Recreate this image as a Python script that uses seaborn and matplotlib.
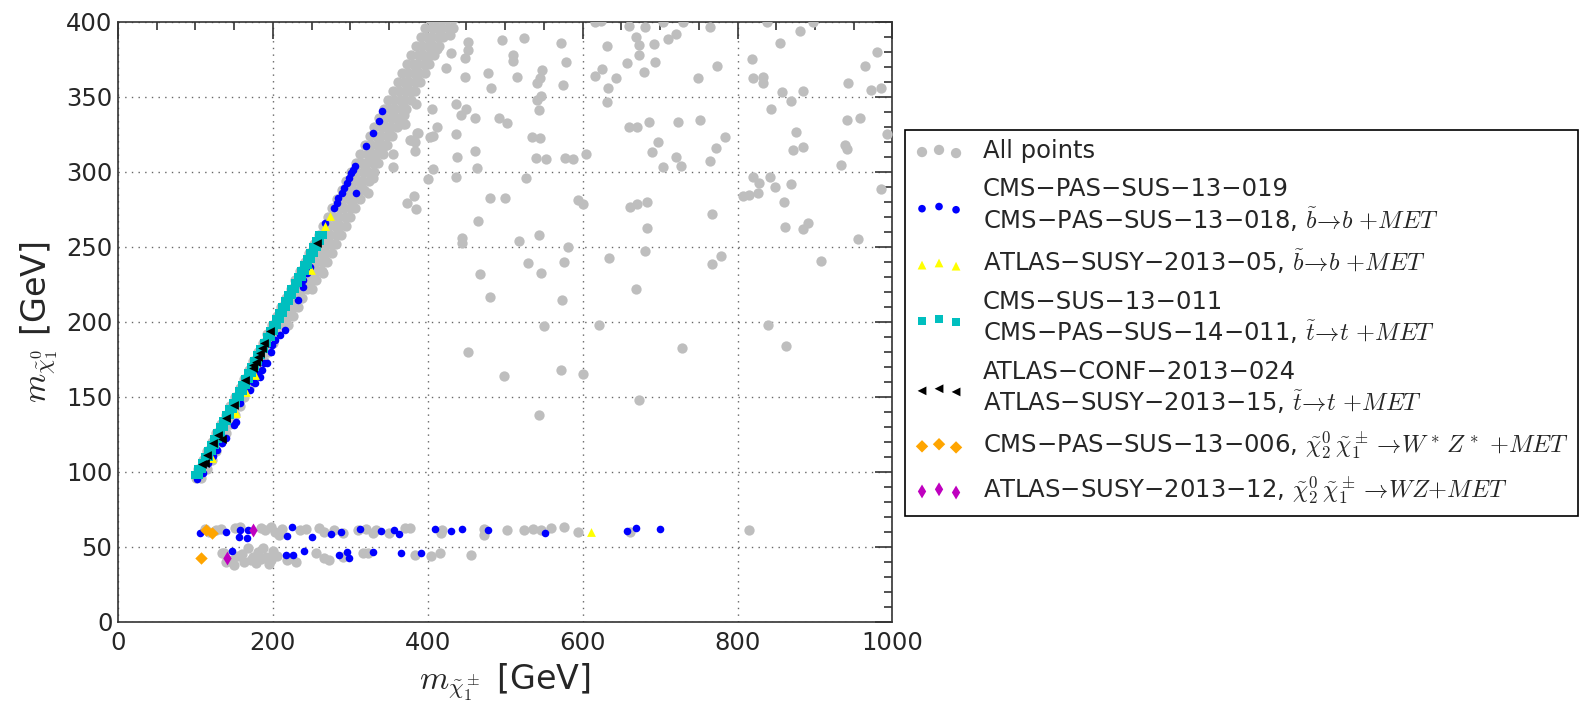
import matplotlib
matplotlib.use("Agg")
import matplotlib.pyplot as plt
from matplotlib.ticker import MultipleLocator
import pandas as pd
import seaborn as sns

# ---- data (GeV) ----
# dense diagonal band of all points: (m_chi10, [m_chi1pm values])
band_rows = [
    (96, [101, 107]), (102, [104, 110, 115]), (108, [110, 116, 121]),
    (114, [115, 122, 127]), (120, [121, 128, 133]), (126, [127, 134, 139]),
    (132, [133, 140, 145]), (138, [139, 146, 151]), (144, [145, 152, 157]),
    (150, [151, 158, 163]), (156, [157, 164, 169]), (162, [163, 170, 175]),
    (168, [169, 176, 182]), (174, [175, 182, 188]), (180, [181, 188, 194]),
    (186, [187, 194, 200]), (192, [193, 200, 206]),
    (198, [199, 207, 214, 219]), (204, [205, 213, 220, 226]),
    (210, [211, 219, 226, 232]), (216, [217, 225, 232, 238]),
    (222, [223, 231, 238, 244, 250]), (228, [229, 237, 244, 250, 256]),
    (234, [235, 243, 250, 257, 263]), (240, [241, 249, 256, 263, 270]),
    (246, [247, 255, 262, 269, 276]), (252, [253, 261, 268, 275, 282]),
    (258, [259, 267, 274, 281, 288]), (264, [265, 273, 280, 287, 294]),
    (270, [271, 279, 286, 293, 300]), (276, [277, 285, 292, 299, 306]),
    (282, [283, 291, 298, 305, 312]), (288, [289, 297, 304, 311, 318]),
    (294, [295, 303, 310, 317, 324]), (300, [301, 309, 316, 323, 330]),
    (306, [307, 315, 322, 329, 336]), (312, [313, 321, 328, 335, 342]),
    (318, [319, 327, 334, 341, 348]), (324, [325, 333, 340, 347, 354]),
    (330, [331, 339, 346, 353, 360]), (336, [337, 345, 352, 359, 366]),
    (342, [343, 351, 358, 365, 372]), (348, [349, 357, 364, 371, 378]),
    (354, [355, 363, 370, 377, 384]), (360, [361, 369, 376, 383, 390]),
    (366, [367, 375, 382, 389, 396]), (372, [373, 381, 388, 395, 402]),
    (378, [379, 387, 394, 401, 408]), (384, [385, 393, 400, 407, 414]),
    (390, [391, 399, 406, 413, 420]), (396, [397, 405, 412, 419, 426]),
    (402, [403, 411, 418, 425, 432]),
]

# scattered all points
scatter_pts = [
    (428.7, 391), (433, 395.6), (452, 386.7), (452, 381), (448, 375.6), (429.5, 379),
    (423.5, 369), (448, 363), (495.4, 388), (524, 389), (572, 385.6), (510, 378),
    (510, 374), (478, 365.6), (481.6, 356), (515.6, 363), (548, 367.8), (545, 362.7),
    (541, 359), (579, 373), (575, 358), (546.5, 350.7), (540.4, 347.8), (544, 341),
    (384.8, 345), (406, 341.6), (437, 345), (442.9, 338), (450, 341.8), (461.4, 336),
    (491.5, 335.6), (501.8, 332.7), (370.6, 332), (387.8, 326), (379, 321), (383.5, 320),
    (407, 324), (412, 330), (436.4, 325), (383.5, 313.8), (438, 310), (461, 313.8),
    (463, 302.7), (407, 301.8), (400.6, 295), (436, 296.7), (534, 323.3), (545, 322.2),
    (539.7, 309), (552.6, 308.5), (577, 309), (588, 308.5), (603.7, 311.8), (526.8, 296),
    (480, 282.7), (499.7, 282.3), (594, 281), (600.6, 278.3), (382, 283.8), (372.7, 278.9),
    (384.8, 275), (615.9, 400), (624, 400.5), (631, 383.8), (615.9, 363.8), (624.4, 368.3),
    (643, 362.7), (633, 355.6), (630.8, 346.7), (659.8, 397), (668.8, 390), (673, 384.5),
    (673, 377.8), (680.4, 396.3), (692, 385), (709.7, 388.3), (721, 391.7), (656.8, 372.2),
    (679, 366.7), (693.3, 373), (729, 400), (764, 396.3), (748.4, 362.3), (772.9, 370.5),
    (660, 330), (669.6, 330), (686, 333.3), (723.4, 333.3), (751.5, 334.5), (697.6, 320),
    (689.8, 313.3), (721, 309.6), (726.4, 303.8), (704, 303.3), (771.5, 316), (783.6, 323.3),
    (765, 307), (818, 374.9), (837.6, 400), (854.7, 385.6), (880.6, 394), (819.4, 362.3),
    (832.3, 363.3), (833, 359), (857, 353.3), (884.8, 353.8), (869, 347), (843, 341.6),
    (942, 359), (964.5, 370.5), (979.5, 379.9), (971.8, 354.4), (985, 355.6), (940.8, 334.5),
    (958, 335.6), (992.5, 325), (875.4, 326.7), (871, 314.5), (884.8, 316.7), (938.6, 317.8),
    (940.8, 315), (933, 304.7), (820, 296.3), (828, 292.7), (841.8, 296.3), (848.6, 290),
    (868.5, 291.8), (806.6, 284), (815, 284.5), (826.7, 285.6), (860, 279.6), (985.8, 288.5),
    (766.4, 271.8), (704, 400), (897, 399.6),
    (661, 276.7), (669.7, 278.5), (682.6, 280), (464.4, 267.3), (443.7, 255.6), (443.7, 252.7),
    (517.8, 254), (544, 257.8), (581.4, 249.6), (575.7, 240), (528.9, 238.9), (545.6, 232.7),
    (467.4, 231.6), (480.3, 216.7), (572.9, 214.5), (634, 242.7), (680.4, 247), (682.6, 262.3),
    (668.3, 221.6), (766.5, 238.5), (778, 244), (861, 263.3), (884, 261.6), (891.3, 266),
    (955.8, 255), (907.7, 240.5), (550.3, 197), (621.4, 197.8), (838.8, 197.6), (451.4, 179.6),
    (727.8, 182.5), (862, 184), (498.8, 164), (571.9, 167.8), (600.7, 165), (673, 147.8),
    (544, 137.8),
    (411.4, 382), (398.6, 374.5), (402.8, 323.4), (368.4, 332), (377, 321), (386, 325.6),
    (355.5, 312), (354.6, 303.3), (329.7, 295.6), (369, 337.8), (342.6, 316.7), (327.5, 310),
    (323.2, 285.6), (265, 232.3),
]

# the two low rows of all points (m_chi10 ~ 60 and ~ 45)
low_pts = [
    (112, 62), (118, 60), (127, 61), (133, 62), (150.7, 62.2), (157, 63), (184.5, 62.2),
    (190, 61), (198, 63.3), (202.7, 60), (208, 57.8), (212, 62), (235, 61.1), (243, 62),
    (260, 62.2), (265.5, 60), (279, 61.1), (290, 59), (309.5, 61.1), (320, 62), (329.7, 59.3),
    (333, 61.1), (350, 59.3), (370, 62.2), (377, 62.7), (417.6, 58.9), (419, 61.1),
    (473, 61.6), (473, 57.8), (502, 61.1), (524.3, 61.1), (535.8, 61.6), (546, 61.1),
    (559.5, 62.2), (576, 63), (594.3, 59.6), (661, 59.6), (815, 61.1),
    (135, 46), (137, 45.6), (140, 40), (147.3, 41.1), (150, 38), (155, 44), (160.8, 45.1),
    (163, 40), (167.6, 48.9), (172, 41), (174.3, 43.3), (177.7, 38.9), (181, 46.7), (185, 42),
    (187.8, 48.9), (191, 43.3), (195, 38.5), (198, 41.1), (200, 47), (205, 44), (218, 41.1),
    (225, 42.2), (230, 40), (255.4, 45.6), (265.5, 42.2), (272.3, 41.1), (290, 43),
    (316.2, 45.6), (323, 45.6), (383.8, 44.4), (404, 43.8), (416, 45.6), (456, 44.4),
]

cms_b_pts = [
    (341.3, 340.5), (337.4, 333.8), (328.8, 326), (320.2, 317), (306, 303.8), (303.8, 301),
    (300.8, 299), (298.7, 295.6), (295.3, 292.3), (291.8, 289), (289, 285.6), (284.6, 282.3),
    (282.2, 279), (279.3, 275.6), (307, 286), (267.3, 265.6), (248, 236.7), (243.6, 232.3),
    (239.3, 227.8), (239.3, 223), (232.8, 214.5), (215.6, 194.5), (209, 191), (202.7, 187.8),
    (198.5, 184.5), (197.5, 180), (192, 172.3), (188.5, 172.3), (185.5, 167.8), (181, 166.7),
    (183.3, 163.3), (176.9, 159), (174, 160), (170.4, 154.5), (157.6, 145.6), (153, 133.3),
    (150, 131), (140, 122.3), (133.8, 119.3), (127.4, 114.5), (122.3, 110.5), (116.7, 105.6),
    (110, 99), (102.4, 95),
    (105.4, 59.3), (139, 59.6), (157.6, 61), (156, 56.3), (167.4, 61), (166.7, 55.6),
    (217.8, 57.3), (224.2, 63.3), (250.9, 56.7), (275.7, 58.2), (287.8, 60), (312.8, 61.8),
    (339.9, 60.4), (356.8, 61.1), (363.5, 58.4), (409.5, 61.8), (429.7, 60.7), (444.6, 61.8),
    (478.4, 60.9), (551.4, 59.3), (657.6, 60.7), (668.4, 62.3), (699.8, 61.6),
    (146.8, 47), (216.9, 44.5), (226.4, 44.5), (240, 47.1), (285.8, 44.4), (296, 46.7),
    (298, 42.2), (329.7, 46.2), (364.9, 45.6), (391.9, 45.6),
]

atlas_b_pts = [
    (273.7, 270.5), (267.3, 263.8), (249.5, 234.5), (177, 164.5), (164.9, 153.3),
    (152, 139.3), (121, 109), (610.3, 59.6),
]

# stop analyses: dense strip along the upper edge of the band
cms_t_rows = [
    (98, [100, 105]), (102, [104, 109]), (106, [108, 113]), (110, [112, 117]),
    (114, [116, 121]), (118, [120, 125]), (122, [124, 129]), (126, [128, 133]),
    (130, [132, 137]), (134, [136, 141]), (138, [140, 145]), (142, [144, 149]),
    (146, [148, 153]), (150, [152, 157]), (154, [156, 161]), (158, [160, 165]),
    (162, [164, 169]), (166, [168, 173]), (170, [172, 177]), (174, [176, 181]),
    (178, [180, 185]), (182, [184, 189]), (186, [188, 193]), (190, [192, 197]),
    (194, [196, 201]), (198, [200, 205]), (202, [204, 209]), (206, [208, 213]),
    (210, [212, 217]), (214, [216, 221]), (218, [220, 225]), (222, [224, 229]),
    (226, [228, 233]), (230, [232, 237]), (234, [236, 241]), (238, [240, 245]),
    (242, [244, 249]), (246, [248, 253]), (250, [252, 257]), (254, [256, 261]),
    (258, [260, 265]),
]

atlas_t_pts = [
    (256.6, 252.7), (196.3, 194), (188.5, 185.6), (185.5, 182.3), (183.3, 179.3),
    (181, 176.7), (178.2, 173.3), (174.7, 171), (174, 169), (163.9, 161), (149.8, 144.5),
    (139.5, 135.6), (128.7, 124.5), (133.8, 121.6), (122.3, 119), (114.5, 111),
    (112.3, 106), (108, 105),
]

cms_ew_pts = [(114, 61.4), (121.7, 59.3), (106.6, 42.7)]
atlas_ew_pts = [(175, 61.1), (141, 42.8)]

labels = [
    "All points",
    "CMS\u2212PAS\u2212SUS\u221213\u2212019\nCMS\u2212PAS\u2212SUS\u221213\u2212018, "
    r"$\tilde{b}\!\rightarrow\!b\ {+}MET$",
    "ATLAS\u2212SUSY\u22122013\u221205, " r"$\tilde{b}\!\rightarrow\!b\ {+}MET$",
    "CMS\u2212SUS\u221213\u2212011\nCMS\u2212PAS\u2212SUS\u221214\u2212011, "
    r"$\tilde{t}\!\rightarrow\!t\ {+}MET$",
    "ATLAS\u2212CONF\u22122013\u2212024\nATLAS\u2212SUSY\u22122013\u221215, "
    r"$\tilde{t}\!\rightarrow\!t\ {+}MET$",
    "CMS\u2212PAS\u2212SUS\u221213\u2212006, "
    r"$\tilde{\chi}_2^0\,\tilde{\chi}_1^\pm\rightarrow\!W^*\,Z^*\ {+}MET$",
    "ATLAS\u2212SUSY\u22122013\u221212, "
    r"$\tilde{\chi}_2^0\,\tilde{\chi}_1^\pm\rightarrow\!WZ{+}MET$",
]


def to_df(pts):
    return pd.DataFrame(pts, columns=["x", "y"])


def rows_df(rows):
    return pd.DataFrame([(x, y) for y, xs in rows for x in xs], columns=["x", "y"])


all_df = pd.concat([rows_df(band_rows), to_df(scatter_pts), to_df(low_pts)])

sns.set_style("white")
plt.rcParams["font.family"] = ["DejaVu Sans"]
plt.rcParams["mathtext.fontset"] = "cm"

fig, ax = plt.subplots(figsize=(15.83, 7.13), dpi=100)
fig.subplots_adjust(left=0.0745, right=0.5638, bottom=0.128, top=0.9696)

series = [
    (all_df, "#bebebe", "o", 55),
    (to_df(cms_b_pts), "#0000ff", "o", 30),
    (to_df(atlas_b_pts), "#ffff00", "^", 40),
    (rows_df(cms_t_rows), "#00bfbf", "s", 36),
    (to_df(atlas_t_pts), "black", "<", 40),
    (to_df(cms_ew_pts), "#ffa500", "D", 40),
    (to_df(atlas_ew_pts), "#bf00bf", "d", 50),
]
for (df, col, mk, sz), lab in zip(series, labels):
    sns.scatterplot(data=df, x="x", y="y", color=col, marker=mk, s=sz,
                    linewidth=0, label=lab, ax=ax, zorder=3)

ax.set_xlim(0, 1000)
ax.set_ylim(0, 400)
ax.xaxis.set_major_locator(MultipleLocator(200))
ax.xaxis.set_minor_locator(MultipleLocator(50))
ax.yaxis.set_major_locator(MultipleLocator(50))
ax.yaxis.set_minor_locator(MultipleLocator(10))
ax.tick_params(which="both", direction="in", top=True, right=True,
               color="#333333", width=1.2)
ax.tick_params(which="major", length=12)
ax.tick_params(which="minor", length=6)
ax.tick_params(axis="x", which="major", labelsize=17.5, pad=7)
ax.tick_params(axis="y", which="major", labelsize=17.5, pad=4)
ax.grid(True, which="major", linestyle=(0, (1, 3.8)), color="0.4", linewidth=1.0)
ax.set_axisbelow(True)
for sp in ax.spines.values():
    sp.set_color("#333333")
    sp.set_linewidth(1.2)

ax.set_xlabel(r"$m_{\tilde{\chi}_1^\pm}$ [GeV]", fontsize=24)
ax.set_ylabel(r"$m_{\tilde{\chi}_1^0}$ [GeV]", fontsize=24)

leg = ax.legend(loc="upper left", bbox_to_anchor=(905 / 1583, (713 - 129.7) / 713),
                bbox_transform=fig.transFigure, borderaxespad=0, scatterpoints=3,
                fontsize=17.5, labelspacing=0.55, frameon=True, fancybox=False,
                framealpha=1, edgecolor="black")
leg.get_frame().set_linewidth(1.2)

fig.savefig("out.png", dpi=100)
